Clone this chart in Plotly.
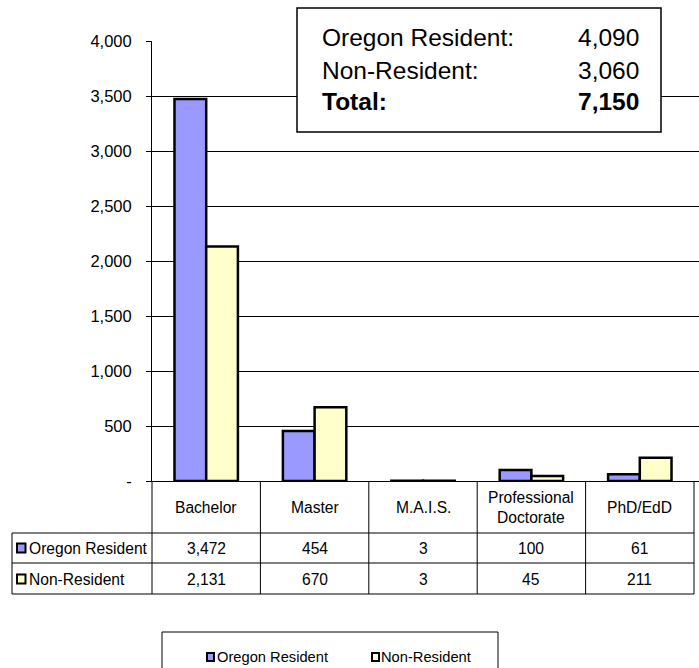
import plotly.graph_objects as go

# ---------------- data ----------------
categories = ["Bachelor", "Master", "M.A.I.S.", "Professional<br>Doctorate", "PhD/EdD"]
series_names = ["Oregon Resident", "Non-Resident"]
oregon_resident = [3472, 454, 3, 100, 61]
non_resident = [2131, 670, 3, 45, 211]
y_tickvals = [0, 500, 1000, 1500, 2000, 2500, 3000, 3500, 4000]
y_ticktext = ["-", "500", "1,000", "1,500", "2,000", "2,500", "3,000", "3,500", "4,000"]
colors = ["#9999FF", "#FFFFCC"]

# ---------------- geometry helpers ----------------
W, H = 699, 668
ML, MR, MT, MB = 152, 0, 41, 187
PW = W - ML - MR
PH = H - MT - MB


def px(x):
    return (x - ML) / PW


def py(y):
    return (H - MB - y) / PH


SANS = "Liberation Sans, Arial, sans-serif"
TFONT = 15.6

x_idx = list(range(len(categories)))
series = [oregon_resident, non_resident]

fig = go.Figure()
for name, vals, col in zip(series_names, series, colors):
    fig.add_trace(go.Bar(
        x=x_idx, y=vals, name=name, showlegend=False, hoverinfo="skip",
        marker=dict(color=col, line=dict(color="black", width=2.5)),
    ))

shapes = []
annotations = []

# ---------- data table ----------
row_lines = [533, 563, 594]
for ry in row_lines:
    shapes.append(dict(type="line", xref="paper", yref="paper",
                       x0=px(12), x1=px(694), y0=py(ry), y1=py(ry),
                       line=dict(color="black", width=1), layer="above"))
shapes.append(dict(type="line", xref="paper", yref="paper", x0=px(12), x1=px(12),
                   y0=py(533), y1=py(594), line=dict(color="black", width=1)))
shapes.append(dict(type="line", xref="paper", yref="paper", x0=0, x1=0,
                   y0=0, y1=py(594), line=dict(color="black", width=1)))
for i in range(len(categories)):
    shapes.append(dict(type="line", xref="x", yref="paper", x0=i + 0.5, x1=i + 0.5,
                       y0=py(481), y1=py(594), line=dict(color="black", width=1)))

for i, c in enumerate(categories):
    annotations.append(dict(x=i, y=py(507), xref="x", yref="paper", text=c,
                            showarrow=False, font=dict(family=SANS, size=TFONT, color="black"),
                            xanchor="center", yanchor="middle"))
row_centers = [548, 579]
for vals, rc in zip(series, row_centers):
    for i, v in enumerate(vals):
        annotations.append(dict(x=i, y=py(rc), xref="x", yref="paper", text=f"{v:,}",
                                showarrow=False, font=dict(family=SANS, size=TFONT, color="black"),
                                xanchor="center", yanchor="middle"))
for name, col, rc in zip(series_names, colors, row_centers):
    shapes.append(dict(type="rect", xref="paper", yref="paper",
                       x0=px(17), x1=px(25.5), y0=py(rc - 4.5), y1=py(rc + 4.5),
                       fillcolor=col, line=dict(color="black", width=2)))
    annotations.append(dict(x=px(27), y=py(rc), xref="paper", yref="paper", text=name,
                            showarrow=False, font=dict(family=SANS, size=TFONT, color="black"),
                            xanchor="left", yanchor="middle"))

# ---------- totals box ----------
shapes.append(dict(type="rect", xref="paper", yref="paper",
                   x0=px(297), x1=px(661), y0=py(132), y1=py(8),
                   fillcolor="white", line=dict(color="black", width=1.5), layer="above"))
tot_o = sum(oregon_resident)
tot_n = sum(non_resident)
box_rows = [
    ("Oregon Resident:", f"{tot_o:,}", 38, False),
    ("Non-Resident:", f"{tot_n:,}", 70, False),
    ("Total:", f"{tot_o + tot_n:,}", 101, True),
]
for lab, val, yy, bold in box_rows:
    t1 = f"<b>{lab}</b>" if bold else lab
    t2 = f"<b>{val}</b>" if bold else val
    annotations.append(dict(x=px(320), y=py(yy), xref="paper", yref="paper", text=t1,
                            showarrow=False, font=dict(family=SANS, size=24.5, color="black"),
                            xanchor="left", yanchor="middle"))
    annotations.append(dict(x=px(641), y=py(yy), xref="paper", yref="paper", text=t2,
                            showarrow=False, font=dict(family=SANS, size=24.5, color="black"),
                            xanchor="right", yanchor="middle"))

# ---------- legend ----------
shapes.append(dict(type="rect", xref="paper", yref="paper",
                   x0=px(162), x1=px(498), y0=py(700), y1=py(632),
                   fillcolor="white", line=dict(color="black", width=1)))
leg_pos = [(207, 215), (372, 379)]
for (sx, tx), name, col in zip(leg_pos, series_names, colors):
    shapes.append(dict(type="rect", xref="paper", yref="paper",
                       x0=px(sx), x1=px(sx + 7), y0=py(661), y1=py(653),
                       fillcolor=col, line=dict(color="black", width=2)))
    annotations.append(dict(x=px(tx), y=py(657), xref="paper", yref="paper", text=name,
                            showarrow=False, font=dict(family=SANS, size=14.7, color="black"),
                            xanchor="left", yanchor="middle"))

fig.update_layout(
    width=W, height=H,
    margin=dict(l=ML, r=MR, t=MT, b=MB, pad=0),
    paper_bgcolor="white", plot_bgcolor="white",
    barmode="group", bargap=0.415, bargroupgap=0,
    shapes=shapes, annotations=annotations,
    showlegend=False,
)
fig.update_xaxes(range=[-0.5, -0.5 + 5 * PW / 542], showticklabels=False, showgrid=False,
                 zeroline=False, showline=True, linecolor="black", linewidth=1, ticks="")
fig.update_yaxes(range=[0, 4000], tickvals=y_tickvals, ticktext=y_ticktext,
                 showgrid=True, gridcolor="black", gridwidth=1, zeroline=False,
                 showline=True, linecolor="black", linewidth=1,
                 ticks="outside", ticklen=5, tickcolor="black", tickwidth=1,
                 ticklabelstandoff=11,
                 tickfont=dict(family=SANS, size=16.5, color="black"))

fig.write_html("out.html", config={"displayModeBar": False},
               post_script="document.body.style.margin='0';document.body.style.padding='0';")
